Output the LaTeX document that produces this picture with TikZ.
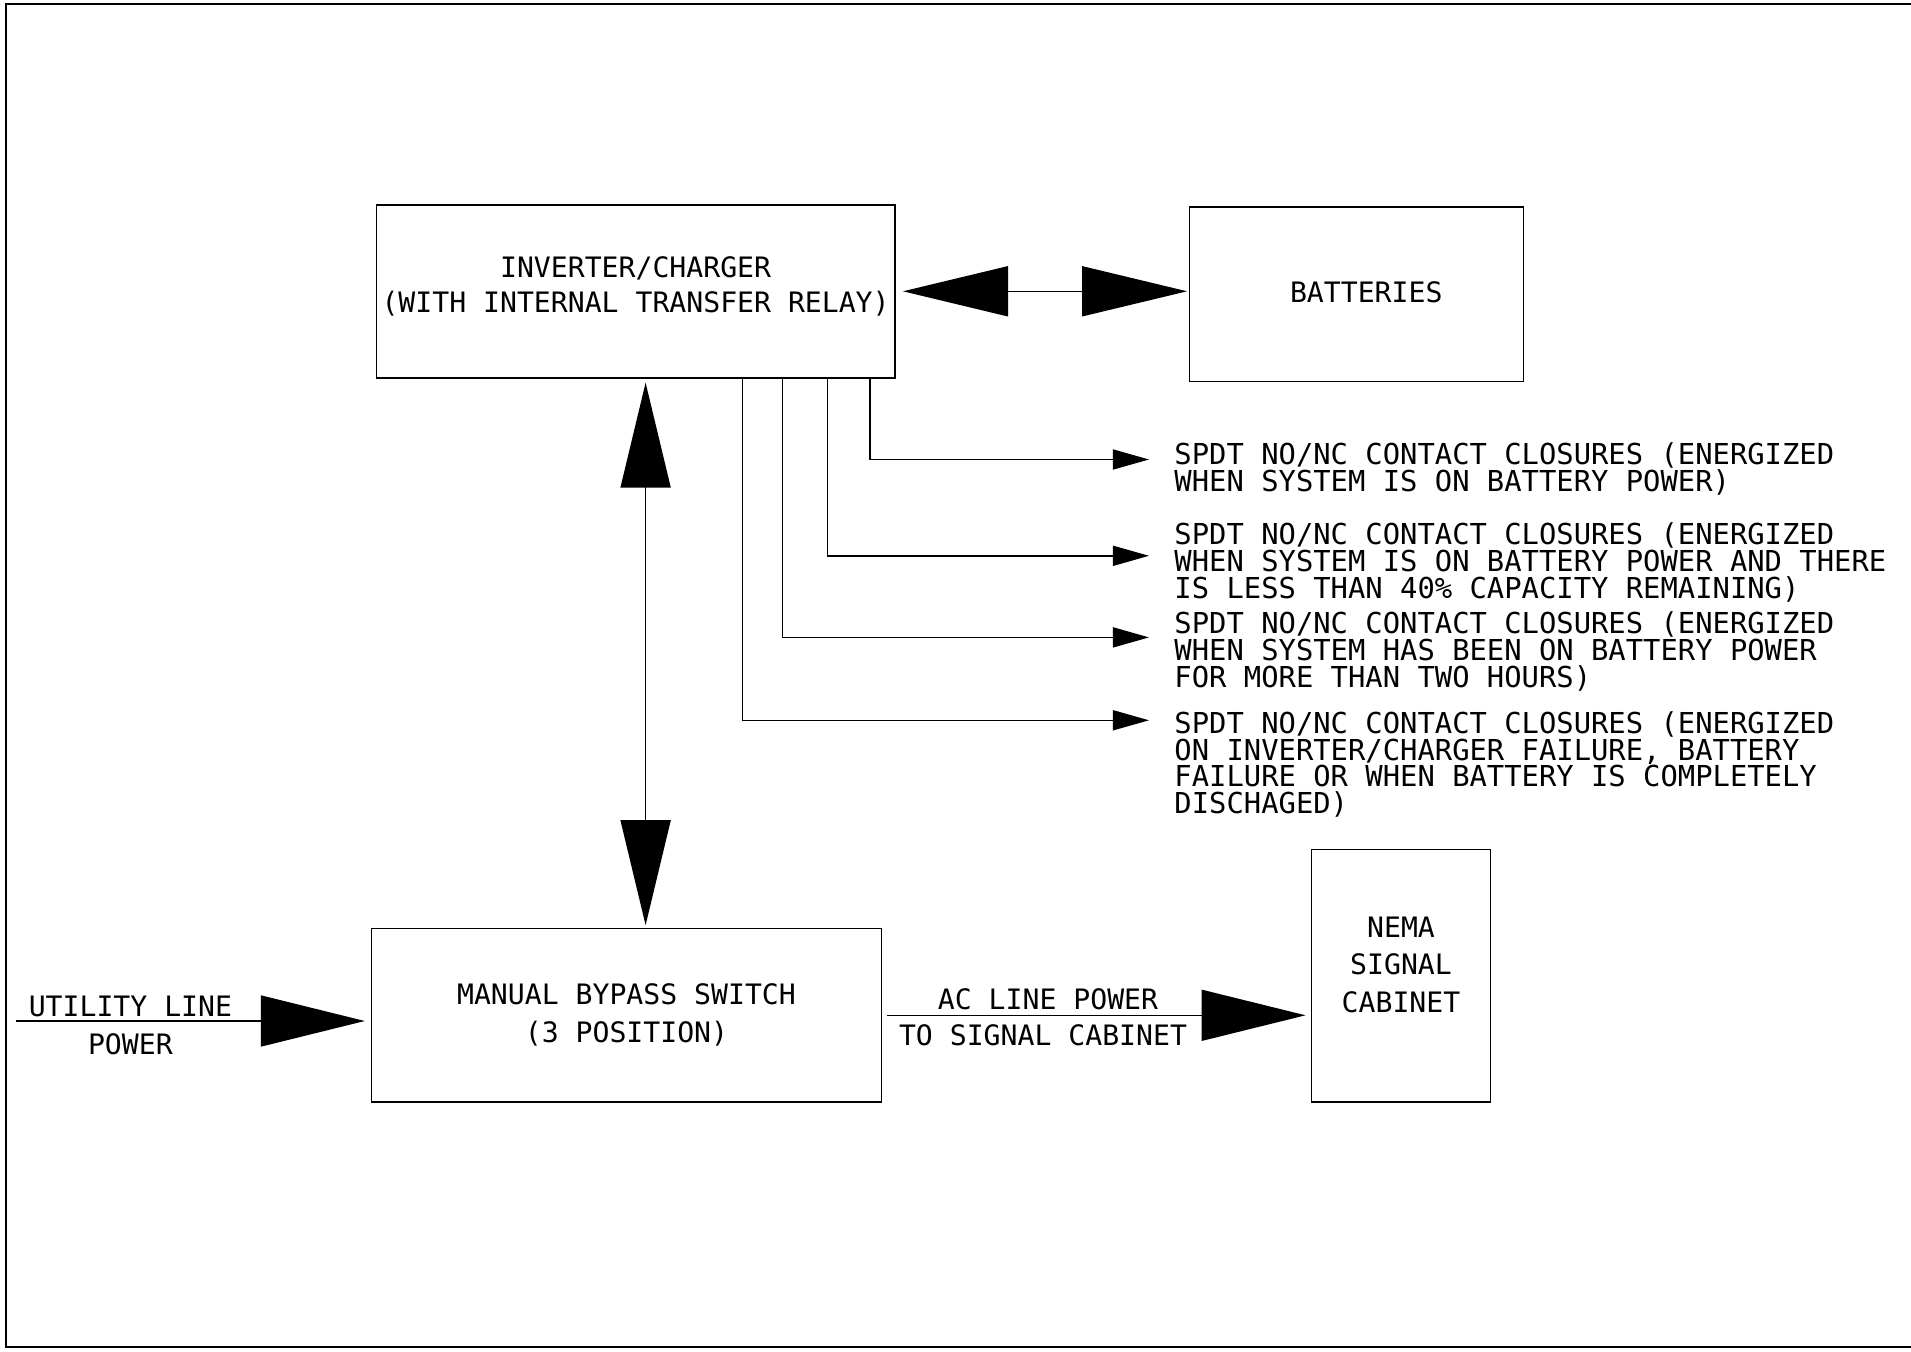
\documentclass[tikz,border=0pt]{standalone}
\usepackage{fontspec}
\newfontfamily\cadfont{DejaVu Sans Mono}
\usetikzlibrary{arrows.meta}
\begin{document}
\begin{tikzpicture}[x=0.01cm,y=-0.01cm,line width=0.45pt,
  box/.style={draw, inner sep=0pt, align=center, font=\cadfont\fontsize{8}{10.6}\selectfont},
  lbl/.style={inner sep=0pt, font=\cadfont\fontsize{8}{10}\selectfont},
  note/.style={inner sep=0pt, anchor=north west, align=left, font=\cadfont\fontsize{8.2}{7.55}\selectfont},
  bigarrow/.style={-{Triangle[length=1.04cm,width=0.51cm]}},
  dblarrow/.style={{Triangle[length=1.05cm,width=0.5cm]}-{Triangle[length=1.05cm,width=0.5cm]}},
  smallarrow/.style={-{Triangle[length=0.36cm,width=0.2cm]}}
]
\useasboundingbox (0,0) rectangle (1911,1352);
% frame
\draw (1911,4) -- (6,4) -- (6,1347) -- (1911,1347);

% boxes
\node[box, minimum width=5.18cm, minimum height=1.73cm, text depth=3.8pt, font=\cadfont\fontsize{8}{9.7}\selectfont] (inv) at (635.6,291.3) {INVERTER/CHARGER\\(WITH INTERNAL TRANSFER RELAY)};
\node[box, minimum width=3.34cm, minimum height=1.743cm, text depth=1.4pt] (bat) at (1356.5,294.4) {\hspace*{0.195cm}BATTERIES};
\node[box, minimum width=5.095cm, minimum height=1.731cm, font=\cadfont\fontsize{8}{10.75}\selectfont] (byp) at (626.5,1015.3) {MANUAL BYPASS SWITCH\\(3 POSITION)};
\node[box, minimum width=1.792cm, minimum height=2.523cm, text depth=6.3pt] (nema) at (1401,975.7) {NEMA\\SIGNAL\\CABINET};

% inverter <-> batteries
\draw[dblarrow, shorten <=0.074cm, shorten >=0.015cm] (inv.east) -- (inv.east -| bat.west);

% inverter <-> bypass
\draw[dblarrow, shorten <=0.04cm, shorten >=0.027cm] ([xshift=0.1cm]inv.south) -- ([xshift=0.1cm]inv.south |- byp.north);

% utility line power
\coordinate (uin) at (16,1021);
\draw[bigarrow, shorten >=0.06cm] (uin) -- (uin -| byp.west);
\node[lbl] (ul1) at (130.4,1006.7) {UTILITY LINE};
\node[lbl] (ul2) at (130.4,1044.5) {POWER};

% AC line power
\draw[bigarrow, shorten <=0.05cm, shorten >=0.05cm] (byp.east) -- (byp.east -| nema.west);
\node[lbl] (ac1) at (1048,999.4) {AC LINE POWER};
\node[lbl] (ac2) at (1043,1034.8) {TO SIGNAL CABINET};

% contact closure outputs
\coordinate (c1) at (870.2,459.5);
\coordinate (c2) at (827.6,555.8);
\coordinate (c3) at (782.5,637.4);
\coordinate (c4) at (742.3,720.3);
\coordinate (e1) at (1149,459.5);
\coordinate (e2) at (1149,555.8);
\coordinate (e3) at (1149,637.4);
\coordinate (e4) at (1149,720.3);
\draw[smallarrow] (inv.south -| c1) |- (e1);
\draw[smallarrow] (inv.south -| c2) |- (e2);
\draw[smallarrow] (inv.south -| c3) |- (e3);
\draw[smallarrow] (inv.south -| c4) |- (e4);

\node[note] (n1) at (1173.7,441.9) {SPDT NO/NC CONTACT CLOSURES (ENERGIZED\\WHEN SYSTEM IS ON BATTERY POWER)};
\node[note] (n2) at (1173.7,522.3) {SPDT NO/NC CONTACT CLOSURES (ENERGIZED\\WHEN SYSTEM IS ON BATTERY POWER AND THERE\\IS LESS THAN 40\% CAPACITY REMAINING)};
\node[note] (n3) at (1173.7,611.3) {SPDT NO/NC CONTACT CLOSURES (ENERGIZED\\WHEN SYSTEM HAS BEEN ON BATTERY POWER\\FOR MORE THAN TWO HOURS)};
\node[note] (n4) at (1173.7,711.2) {SPDT NO/NC CONTACT CLOSURES (ENERGIZED\\ON INVERTER/CHARGER FAILURE, BATTERY\\FAILURE OR WHEN BATTERY IS COMPLETELY\\DISCHAGED)};
\end{tikzpicture}
\end{document}
